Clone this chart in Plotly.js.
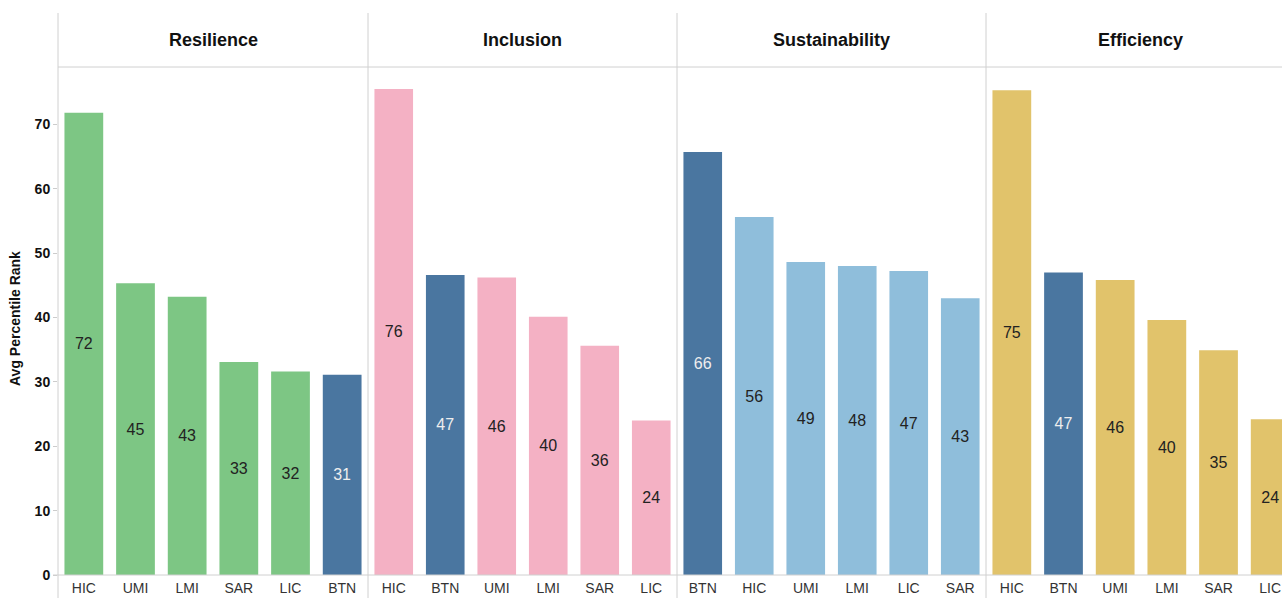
<!DOCTYPE html>
<html>
<head>
<meta charset="utf-8">
<script src="https://cdn.plot.ly/plotly-3.0.1.min.js"></script>
<style>html,body{margin:0;padding:0;background:#fff;}#chart{width:1282px;height:598px;}</style>
</head>
<body>
<div id="chart"></div>
<script>
// ---- data ----
const facets = ['Resilience', 'Inclusion', 'Sustainability', 'Efficiency'];
const resilienceCats = ['HIC', 'UMI', 'LMI', 'SAR', 'LIC', 'BTN'];
const resilienceVals = [71.8, 45.3, 43.2, 33.1, 31.6, 31.1];
const inclusionCats = ['HIC', 'BTN', 'UMI', 'LMI', 'SAR', 'LIC'];
const inclusionVals = [75.5, 46.6, 46.2, 40.1, 35.6, 24.0];
const sustainabilityCats = ['BTN', 'HIC', 'UMI', 'LMI', 'LIC', 'SAR'];
const sustainabilityVals = [65.7, 55.6, 48.6, 48.0, 47.2, 43.0];
const efficiencyCats = ['HIC', 'BTN', 'UMI', 'LMI', 'SAR', 'LIC'];
const efficiencyVals = [75.3, 47.0, 45.8, 39.6, 34.9, 24.2];
const yTitle = 'Avg Percentile Rank';

// ---- styles ----
const facetColors = ['#7DC684', '#F4B1C4', '#8FBEDB', '#E1C36B'];
const btnColor = '#4A76A0';
const W = 1282, H = 598, ML = 58, MT = 67, MB = 23;
const plotW = W - ML;
const edges = [58, 368, 677, 986, 1282];
const catStep = 51.67;
const font = 'Arial, "Liberation Sans", sans-serif';

const allCats = [resilienceCats, inclusionCats, sustainabilityCats, efficiencyCats];
const allVals = [resilienceVals, inclusionVals, sustainabilityVals, efficiencyVals];

const traces = [];
const layout = {
  width: W, height: H,
  margin: {l: ML, r: 0, t: MT, b: MB, pad: 0},
  paper_bgcolor: '#fff', plot_bgcolor: '#fff',
  showlegend: false,
  bargap: 0.25,
  font: {family: font, color: '#333'},
  shapes: [], annotations: []
};

for (let i = 0; i < 4; i++) {
  const ax = i === 0 ? '' : String(i + 1);
  const cats = allCats[i], vals = allVals[i];
  traces.push({
    type: 'bar',
    x: cats, y: vals,
    xaxis: 'x' + ax, yaxis: 'y' + ax,
    marker: {color: cats.map(c => c === 'BTN' ? btnColor : facetColors[i]), line: {width: 0}},
    text: vals.map(v => String(Math.round(v))),
    textposition: 'inside',
    insidetextanchor: 'middle',
    constraintext: 'none',
    textangle: 0,
    textfont: {family: font, size: 16, color: cats.map(c => c === 'BTN' ? '#eeeeee' : '#222222')},
    hoverinfo: 'x+y',
    cliponaxis: true
  });
  const d0 = (edges[i] - ML) / plotW, d1 = (edges[i + 1] - ML) / plotW;
  const width = edges[i + 1] - edges[i];
  const rangeMax = -0.5 + width / catStep;
  layout['xaxis' + ax] = {
    domain: [d0, d1], anchor: 'y' + ax,
    type: 'category', categoryorder: 'array', categoryarray: cats,
    range: [-0.5, i === 3 ? rangeMax : 5.5],
    showgrid: false, zeroline: false, showline: false,
    ticks: '', tickfont: {family: font, size: 14, color: '#333'},
    ticklabelstandoff: 3, fixedrange: true
  };
  layout['yaxis' + ax] = {
    domain: [0, 1], anchor: 'x' + ax,
    range: [0, 78.9],
    showgrid: false, zeroline: false, showline: false,
    showticklabels: i === 0,
    tickvals: [0, 10, 20, 30, 40, 50, 60, 70],
    ticks: i === 0 ? 'outside' : '', ticklen: 4, tickcolor: '#cccccc',
    tickfont: {family: font, size: 14, color: '#111', weight: 'bold'},
    fixedrange: true
  };
  // facet header
  layout.annotations.push({
    xref: 'paper', yref: 'paper',
    x: ((edges[i] + (i === 3 ? edges[i] + 309 : edges[i + 1])) / 2 - ML) / plotW,
    y: (H - MB - 40) / (H - MT - MB),
    text: '<b>' + facets[i] + '</b>', showarrow: false,
    xanchor: 'center', yanchor: 'middle',
    font: {family: font, size: 18, color: '#111'}
  });
}

const plotH = H - MT - MB;
const py = p => (H - MB - p) / plotH;
const px = p => (p - ML) / plotW;
const lineCol = '#d0d0d0';
// vertical separators
[58, 368, 677, 986].forEach(x => {
  layout.shapes.push({type: 'line', xref: 'paper', yref: 'paper', x0: px(x), x1: px(x), y0: py(598), y1: py(13), line: {color: lineCol, width: 1}});
});
// header bottom line
layout.shapes.push({type: 'line', xref: 'paper', yref: 'paper', x0: 0, x1: 1, y0: py(67), y1: py(67), line: {color: lineCol, width: 1}});
// bottom axis line
layout.shapes.push({type: 'line', xref: 'paper', yref: 'paper', x0: px(53), x1: 1, y0: py(575), y1: py(575), line: {color: lineCol, width: 1}});

// y axis title
layout.annotations.push({
  xref: 'paper', yref: 'paper', x: px(15), y: py(319),
  text: '<b>' + yTitle + '</b>', showarrow: false, textangle: -90,
  xanchor: 'center', yanchor: 'middle',
  font: {family: font, size: 14, color: '#111'}
});

Plotly.newPlot('chart', traces, layout, {displayModeBar: false, staticPlot: true});
</script>
</body>
</html>
